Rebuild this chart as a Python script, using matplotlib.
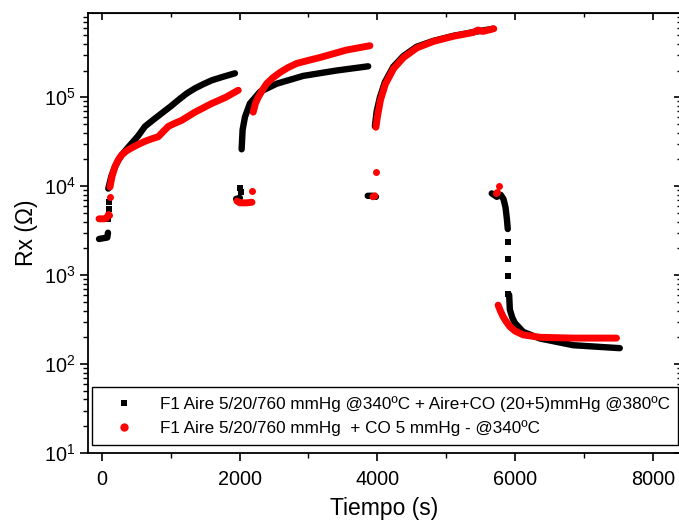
import numpy as np
import matplotlib
matplotlib.use("Agg")
import matplotlib.pyplot as plt
from matplotlib.lines import Line2D
from matplotlib.ticker import MultipleLocator

plt.rcParams['font.family'] = ['Liberation Sans', 'DejaVu Sans']
plt.rcParams['mathtext.fontset'] = 'custom'
plt.rcParams['mathtext.rm'] = 'Liberation Sans'
plt.rcParams['mathtext.it'] = 'Liberation Sans:italic'

# --- data: time (s) and Rx (ohm) ---
# black: F1 Aire 5/20/760 mmHg @340ºC + Aire+CO (20+5)mmHg @380ºC
black_seg_t = [
    [-40, 20, 80, 90],
    [94, 140, 192, 240, 288, 385, 460, 530, 627, 750, 869, 1000, 1110, 1230, 1352, 1470, 1594, 1760, 1933],
    [1950, 1980, 2005],
    [2030, 2044, 2078, 2150, 2295, 2538, 2924, 3408, 3867],
    [3860, 3935, 3980],
    [3964, 3989, 4037, 4109, 4230, 4375, 4569, 4810, 5100, 5390, 5680],
    [5660, 5734, 5790, 5830, 5860, 5880, 5893],
    [5913, 5923, 5960, 5996, 6117, 6359, 6842, 7519],
]
black_seg_r = [
    [2.55e3, 2.6e3, 2.65e3, 3.0e3],
    [9.4e3, 1.3e4, 1.66e4, 1.95e4, 2.24e4, 2.75e4, 3.2e4, 3.7e4, 4.7e4, 5.6e4, 6.6e4, 7.9e4, 9.3e4, 1.1e5, 1.26e5, 1.4e5, 1.55e5, 1.7e5, 1.86e5],
    [7.2e3, 7.3e3, 7.4e3],
    [2.6e4, 4.3e4, 6.0e4, 8.5e4, 1.15e5, 1.42e5, 1.74e5, 2.0e5, 2.23e5],
    [7.8e3, 7.8e3, 7.6e3],
    [4.7e4, 6.9e4, 1.0e5, 1.48e5, 2.2e5, 2.9e5, 3.7e5, 4.3e5, 4.9e5, 5.4e5, 5.9e5],
    [8.3e3, 7.6e3, 8.0e3, 7.2e3, 5.8e3, 4.3e3, 3.3e3],
    [600, 410, 330, 290, 230, 194, 163, 151],
]
black_pts_t = [95, 98, 100, 2010, 2015, 5893, 5893, 5893, 5893]
black_pts_r = [4.3e3, 5.5e3, 6.6e3, 9.5e3, 8.5e3, 2.35e3, 1.5e3, 980, 620]

# red: F1 Aire 5/20/760 mmHg + CO 5 mmHg - @340ºC
red_seg_t = [
    [-40, 0, 40, 70],
    [119, 150, 192, 240, 288, 360, 434, 530, 627, 720, 820, 890, 965, 1060, 1159, 1352, 1594, 1800, 1981],
    [1962, 2005, 2100, 2180],
    [2198, 2230, 2271, 2330, 2392, 2480, 2586, 2700, 2828, 3000, 3166, 3553, 3892],
    [3935, 3964],
    [3979, 4000, 4045, 4115, 4235, 4380, 4575, 4815, 5100, 5390, 5460, 5530, 5690],
    [5753, 5790, 5826, 5870, 5923, 6000, 6117, 6359, 6842, 7471],
]
red_seg_r = [
    [4.3e3, 4.3e3, 4.3e3, 4.4e3],
    [9.8e3, 1.3e4, 1.66e4, 1.98e4, 2.24e4, 2.5e4, 2.7e4, 2.95e4, 3.2e4, 3.4e4, 3.6e4, 4.1e4, 4.7e4, 5.1e4, 5.5e4, 6.8e4, 8.5e4, 1.0e5, 1.2e5],
    [6.8e3, 6.5e3, 6.5e3, 6.6e3],
    [6.8e4, 8.5e4, 1.0e5, 1.2e5, 1.42e5, 1.65e5, 1.9e5, 2.15e5, 2.4e5, 2.6e5, 2.8e5, 3.4e5, 3.8e5],
    [7.6e3, 7.8e3],
    [4.6e4, 6.0e4, 9.3e4, 1.4e5, 2.1e5, 2.8e5, 3.6e5, 4.25e5, 4.85e5, 5.35e5, 5.7e5, 5.5e5, 5.9e5],
    [460, 390, 340, 300, 264, 235, 213, 200, 196, 196],
]
red_pts_t = [75, 90, 100, 115, 2179, 3979, 5720, 5740, 5760]
red_pts_r = [4.6e3, 4.9e3, 4.7e3, 7.5e3, 8.8e3, 1.45e4, 8.3e3, 8.6e3, 1.0e4]

labels = ['F1 Aire 5/20/760 mmHg @340ºC + Aire+CO (20+5)mmHg @380ºC',
          'F1 Aire 5/20/760 mmHg  + CO 5 mmHg - @340ºC']

fig = plt.figure(figsize=(6.79, 5.21), dpi=100)
ax = fig.add_axes([0.1296, 0.1305, 0.8726, 0.844])

for t, r in zip(black_seg_t, black_seg_r):
    ax.plot(t, r, '-', color='black', lw=4.6, solid_capstyle='round', solid_joinstyle='round')
ax.plot(black_pts_t, black_pts_r, 's', color='black', ms=4, mew=0)

for t, r in zip(red_seg_t, red_seg_r):
    ax.plot(t, r, '-', color='#ff0000', lw=5, solid_capstyle='round', solid_joinstyle='round')
ax.plot(red_pts_t, red_pts_r, 'o', color='#ff0000', ms=5, mew=0)

ax.set_yscale('log')
ax.set_xlim(-200, 8400)
ax.set_ylim(10, 8.8e5)
ax.xaxis.set_major_locator(MultipleLocator(2000))
ax.xaxis.set_minor_locator(MultipleLocator(1000))

for s in ax.spines.values():
    s.set_linewidth(1.3)

ax.tick_params(which='major', direction='out', length=6, width=1.2, labelsize=14.3, pad=3)
ax.tick_params(axis='x', which='major', pad=6)
ax.tick_params(which='minor', direction='out', length=3.5, width=1.0)

# mirrored inner ticks on top and right
top = ax.secondary_xaxis('top')
top.xaxis.set_major_locator(MultipleLocator(2000))
top.xaxis.set_minor_locator(MultipleLocator(1000))
top.tick_params(which='major', direction='in', length=5, width=1.2, labeltop=False)
top.tick_params(which='minor', direction='in', length=3, width=1.0)
right = ax.secondary_yaxis('right')
right.tick_params(which='major', direction='in', length=4, width=1.2, labelright=False)
right.tick_params(which='minor', direction='in', length=2.5, width=1.0, labelright=False)

ax.set_xlabel('Tiempo (s)', fontsize=16.5, labelpad=6)
ax.set_ylabel('Rx (Ω)', fontsize=16.5, labelpad=4)

handles = [Line2D([], [], ls='none', marker='s', color='black', ms=5, mew=0),
           Line2D([], [], ls='none', marker='o', color='#ff0000', ms=6, mew=0)]
leg = ax.legend(handles, labels, loc='lower left', bbox_to_anchor=(0.007, 0.018, 0.988, 0.127),
                mode='expand', borderaxespad=0, fontsize=12.3, frameon=True, fancybox=False,
                edgecolor='black', framealpha=1, handlelength=2.6,
                handletextpad=0.85, labelspacing=0.45, borderpad=0.55)
leg.get_frame().set_linewidth(1.0)

fig.savefig('out.png', dpi=100)
